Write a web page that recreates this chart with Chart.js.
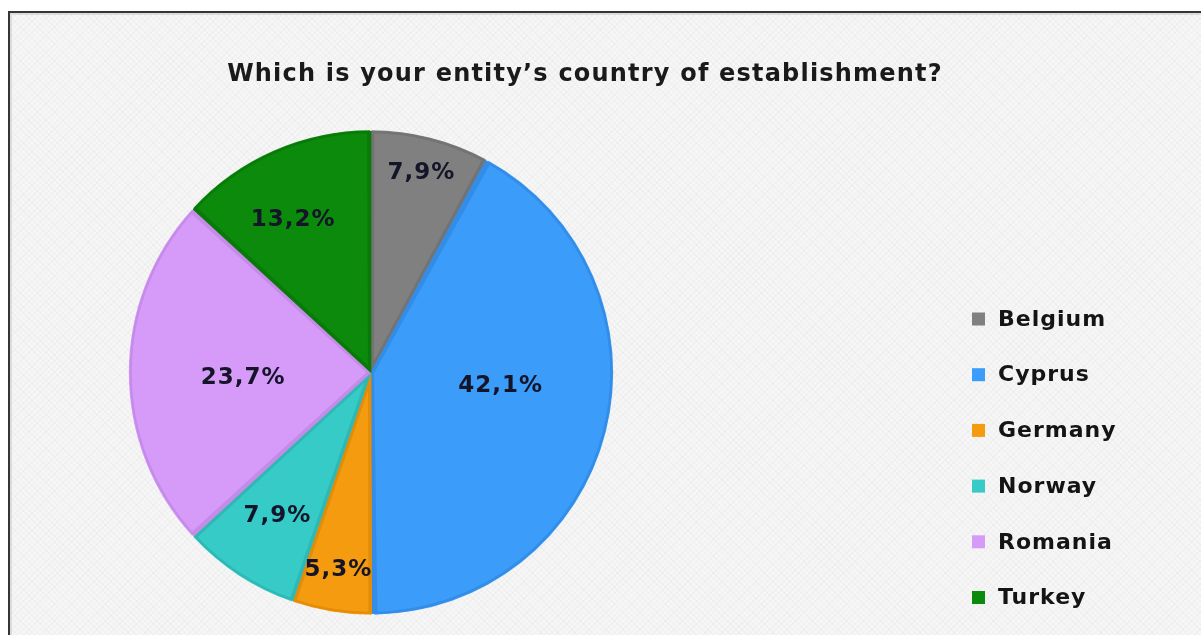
<!DOCTYPE html>
<html>
<head>
<meta charset="utf-8">
<script src="https://cdn.jsdelivr.net/npm/chart.js@4.4.1/dist/chart.umd.min.js"></script>
<style>
  html, body { margin: 0; padding: 0; background: #fff; }
  body { width: 1201px; height: 635px; position: relative; overflow: hidden; }
  .frame {
    position: absolute; left: 8px; top: 11px; width: 1260px; height: 700px;
    border-top: 2px solid #353535; border-left: 2px solid #353535;
    box-shadow: inset 2px 2px 0 #dcdcdc;
    background-color: #f6f6f6;
    background-image:
      repeating-linear-gradient(45deg, rgba(0,0,0,0.025) 0 1px, transparent 1px 4px),
      repeating-linear-gradient(-45deg, rgba(0,0,0,0.025) 0 1px, transparent 1px 4px);
  }
  #countryPie { position: absolute; left: 0; top: 0; }
</style>
</head>
<body>
<div class="frame"></div>
<canvas id="countryPie" width="1201" height="635"></canvas>
<script>
// ▰▰▰▰▰▰▰▰▰▰▰▰▰▰▰▰▰ COUNTRY PIE ▰▰▰▰▰▰▰▰▰▰▰▰▰▰▰▰▰

const countries = ["Belgium", "Cyprus", "Germany", "Norway", "Romania", "Turkey"];
const shares = [7.9, 42.1, 5.3, 7.9, 23.7, 13.2];

const sliceColors = ["#808080", "#3b9cf9", "#f59b10", "#36cbc7", "#d69bf8", "#0b8a0b"];
const sliceEdges = ["#737373", "#338de6", "#e38c08", "#2fb8b4", "#c58be8", "#097a09"];

// label placement: fraction of radius + small angle nudge (deg)
const labelRadius = [0.85, 0.54, 0.83, 0.71, 0.53, 0.71];
const labelNudge = [0, -8, 0, 0, -2.5, -3.3];

const FONT = "'DejaVu Sans', Verdana, sans-serif";

// wider tracking for the title (drawn before the datasets)
const titleTracking = {
  id: "titleTracking",
  beforeDraw(chart) { chart.ctx.letterSpacing = "1.2px"; },
  beforeDatasetsDraw(chart) { chart.ctx.letterSpacing = "0px"; }
};

// percent text on each slice
const sliceLabels = {
  id: "sliceLabels",
  afterDatasetsDraw(chart) {
    const ctx = chart.ctx;
    const meta = chart.getDatasetMeta(0);
    ctx.save();
    ctx.font = "bold 23px " + FONT;
    ctx.letterSpacing = "1px";
    ctx.fillStyle = "#15152a";
    ctx.textAlign = "center";
    ctx.textBaseline = "middle";
    meta.data.forEach((arc, i) => {
      const p = arc.getProps(["x", "y", "startAngle", "endAngle", "outerRadius"], true);
      const mid = (p.startAngle + p.endAngle) / 2 + labelNudge[i] * Math.PI / 180;
      const r = p.outerRadius * labelRadius[i];
      const txt = shares[i].toFixed(1).replace(".", ",") + "%";
      ctx.fillText(txt, p.x + Math.cos(mid) * r, p.y + Math.sin(mid) * r);
    });
    ctx.restore();
  }
};

// legend on the right, as its own layout box so the title stays centred on the whole card
const sideLegend = {
  id: "sideLegend",
  beforeInit(chart) {
    const box = {
      position: "right",
      weight: 10,
      fullSize: false,
      options: {},
      width: 0, height: 0, left: 0, top: 0, right: 0, bottom: 0,
      isHorizontal() { return false; },
      update(maxWidth, maxHeight) {
        this.width = 428;
        this.height = maxHeight;
      },
      draw() {
        const ctx = chart.ctx;
        const colors = chart.data.datasets[0].backgroundColor;
        ctx.save();
        ctx.font = "bold 22px " + FONT;
        ctx.letterSpacing = "1px";
        ctx.textAlign = "left";
        ctx.textBaseline = "middle";
        chart.data.labels.forEach((name, i) => {
          const y = 319 + i * 55.7;
          const x = this.left + 230;
          ctx.fillStyle = colors[i];
          ctx.fillRect(x, y - 6.5, 13, 13);
          ctx.fillStyle = "#141414";
          ctx.fillText(name, x + 26, y + 1);
        });
        ctx.restore();
      }
    };
    Chart.layouts.addBox(chart, box);
  }
};

const config_pie = {
  type: "pie",
  data: {
    labels: countries,
    datasets: [{
      data: shares,
      backgroundColor: sliceColors,
      borderColor: sliceEdges,
      borderWidth: 3,
      borderAlign: "inner",
      spacing: 2,
    }]
  },
  options: {
    responsive: false,
    animation: false,
    devicePixelRatio: 1,
    layout: {
      padding: { top: 0, left: 0, right: 31, bottom: 20 }
    },
    plugins: {
      legend: { display: false },
      tooltip: { enabled: false },
      title: {
        display: true,
        text: "Which is your entity’s country of establishment?",
        color: "#1a1a1a",
        font: { family: FONT, size: 24, weight: "bold" },
        padding: { top: 60, bottom: 130 - 60 - 28.8 }
      }
    }
  },
  plugins: [titleTracking, sliceLabels, sideLegend]
};

const countryPie = new Chart(document.getElementById("countryPie"), config_pie);
</script>
</body>
</html>
